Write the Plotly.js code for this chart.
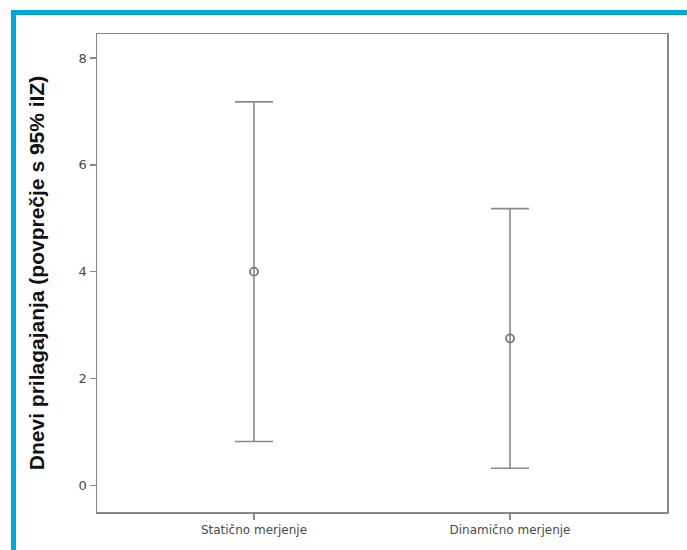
<!DOCTYPE html>
<html>
<head>
<meta charset="utf-8">
<script src="https://cdn.plot.ly/plotly-3.0.1.min.js"></script>
<style>
html,body{margin:0;padding:0;background:#fff;}
#chart{width:687px;height:550px;}
</style>
</head>
<body>
<div id="chart"></div>
<script>
// Data
var categories = ["Statično merjenje", "Dinamično merjenje"];
var means = [4.0, 2.75];
var upperCI = [7.18, 5.18];
var lowerCI = [0.82, 0.32];
var yTickVals = [0, 2, 4, 6, 8];
var yTitle = "Dnevi prilagajanja (povprečje s 95% iIZ)";

var W = 687, H = 550;
var mL = 97, mR = 20, mT = 34, mB = 38;
var pw = W - mL - mR, ph = H - mT - mB;
function px(x){ return (x - mL) / pw; }
function py(y){ return (H - mB - y) / ph; }

var xIdx = categories.map(function(c, i){ return i; });
var errPlus = upperCI.map(function(u, i){ return u - means[i]; });
var errMinus = lowerCI.map(function(l, i){ return means[i] - l; });

var trace = {
  type: "scatter",
  mode: "markers",
  x: xIdx,
  y: means,
  marker: {symbol: "circle-open", size: 8, color: "#777", line: {width: 1.8, color: "#777"}},
  error_y: {type: "data", symmetric: false, array: errPlus, arrayminus: errMinus,
            color: "#8a8a8a", thickness: 1.6, width: 19},
  hoverinfo: "none",
  showlegend: false
};

var blue = "#00a8d6";
var layout = {
  width: W, height: H,
  margin: {l: mL, r: mR, t: mT, b: mB, pad: 0},
  paper_bgcolor: "#fff",
  plot_bgcolor: "#fff",
  font: {family: "DejaVu Sans, sans-serif", color: "#4a4a4a", size: 13},
  xaxis: {
    range: [-0.613, 1.613],
    tickvals: xIdx, ticktext: categories,
    ticks: "outside", ticklen: 6, tickwidth: 1.5, tickcolor: "#888",
    showline: true, linecolor: "#888", linewidth: 1.5, mirror: true,
    showgrid: false, zeroline: false,
    tickfont: {size: 12, color: "#4a4a4a", family: "DejaVu Sans, sans-serif"}
  },
  yaxis: {
    range: [-0.5, 8.45],
    tickvals: yTickVals,
    ticks: "outside", ticklen: 6, tickwidth: 1.5, tickcolor: "#888",
    showline: true, linecolor: "#888", linewidth: 1.5, mirror: true,
    showgrid: false, zeroline: false,
    tickfont: {size: 13, color: "#4a4a4a", family: "DejaVu Sans, sans-serif"},
    title: {text: yTitle, font: {family: "Liberation Sans, Arial, sans-serif", size: 21, color: "#111", weight: "bold"}, standoff: 28}
  },
  shapes: [
    {type: "rect", xref: "paper", yref: "paper", x0: px(11), x1: px(W + 5), y0: py(15), y1: py(10),
     fillcolor: blue, line: {width: 0}, layer: "above"},
    {type: "rect", xref: "paper", yref: "paper", x0: px(11), x1: px(16), y0: py(H + 5), y1: py(10),
     fillcolor: blue, line: {width: 0}, layer: "above"}
  ]
};

Plotly.newPlot("chart", [trace], layout, {displayModeBar: false, staticPlot: true});
</script>
</body>
</html>
